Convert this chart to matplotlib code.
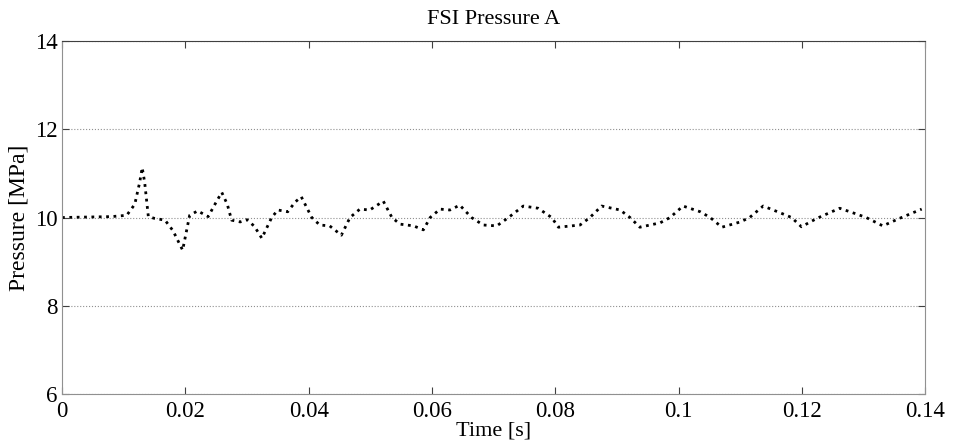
import numpy as np
import matplotlib.pyplot as plt

# FSI pressure trace
time_s = [0.0, 0.004, 0.008, 0.0105, 0.0118, 0.0126, 0.0130, 0.0134, 0.0140,
          0.0150, 0.0167, 0.0180, 0.01956, 0.0207, 0.0220, 0.0237, 0.0248, 0.0259,
          0.0268, 0.0275, 0.0289, 0.0300, 0.0312, 0.0324, 0.0340, 0.0350, 0.0366,
          0.0378, 0.0388, 0.0405, 0.0418, 0.0434, 0.0453, 0.0467, 0.0483, 0.0499,
          0.0521, 0.0535, 0.0548, 0.0570, 0.0586, 0.0597, 0.0613, 0.0629, 0.0645,
          0.0664, 0.0683, 0.0705, 0.0724, 0.0748, 0.0772, 0.0794, 0.0805, 0.0840,
          0.0856, 0.0875, 0.0905, 0.0921, 0.0937, 0.0970, 0.0986, 0.1007, 0.1035,
          0.1051, 0.1070, 0.1100, 0.1115, 0.1137, 0.1164, 0.1183, 0.1199, 0.1224,
          0.1261, 0.1288, 0.1304, 0.1331, 0.1358, 0.1394]
pressure_mpa = [10.0, 10.01, 10.02, 10.05, 10.3, 10.8, 11.13, 10.8, 10.02,
                9.98, 9.94, 9.7, 9.26, 10.05, 10.15, 10.02, 10.3, 10.57,
                10.3, 9.94, 9.9, 9.95, 9.8, 9.53, 10.0, 10.17, 10.13,
                10.35, 10.47, 10.0, 9.83, 9.81, 9.6, 10.0, 10.19, 10.17,
                10.37, 10.0, 9.85, 9.81, 9.72, 10.0, 10.19, 10.17, 10.28,
                10.0, 9.83, 9.81, 10.0, 10.26, 10.21, 10.0, 9.78, 9.83,
                10.0, 10.26, 10.17, 10.0, 9.78, 9.88, 10.0, 10.26, 10.13,
                10.0, 9.78, 9.9, 10.0, 10.26, 10.11, 10.0, 9.79, 9.98,
                10.21, 10.08, 10.0, 9.81, 9.98, 10.19]

x_ticks = [0, 0.02, 0.04, 0.06, 0.08, 0.1, 0.12, 0.14]
x_tick_labels = ["0", "0.02", "0.04", "0.06", "0.08", "0.1", "0.12", "0.14"]
y_ticks = [6, 8, 10, 12, 14]

plt.rcParams["font.family"] = ["Liberation Serif", "DejaVu Serif"]

fig = plt.figure(figsize=(9.54, 4.48), dpi=100)
ax = fig.add_axes([0.065, 0.1205, 0.905, 0.788])

ax.plot(time_s, pressure_mpa, color="black", linestyle=":", linewidth=2)

ax.set_xlim(0, 0.14)
ax.set_ylim(6, 14)
ax.set_xticks(x_ticks)
ax.set_xticklabels(x_tick_labels)
ax.set_yticks(y_ticks)
ax.yaxis.grid(True, linestyle=":", color="#909090", linewidth=0.8)
ax.tick_params(direction="in", length=5, labelsize=16.5, top=True, right=True,
               color="#404040")
ax.tick_params(axis="x", pad=5)
ax.tick_params(axis="y", pad=3)
for side in ["left", "right", "bottom"]:
    ax.spines[side].set_color("#909090")
ax.spines["top"].set_color("#404040")

ax.set_xlabel("Time [s]", fontsize=16, labelpad=0)
ax.set_ylabel("Pressure [MPa]", fontsize=17, labelpad=4)
ax.set_title("FSI Pressure A", fontsize=16, pad=12)

fig.savefig("out.png", dpi=100)
